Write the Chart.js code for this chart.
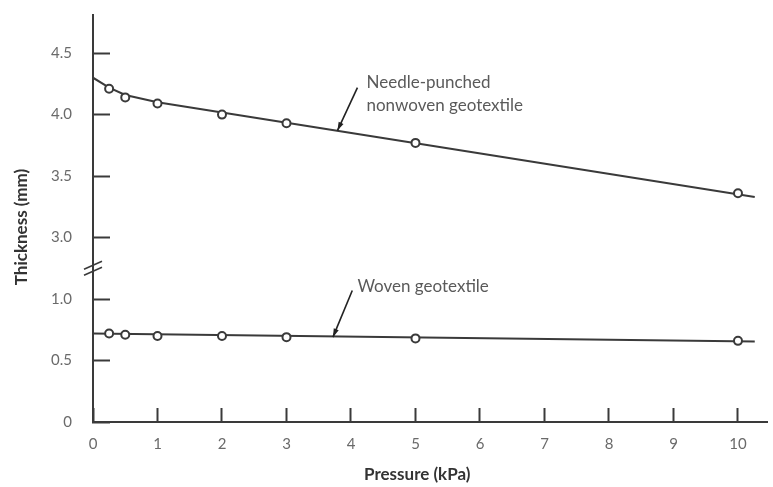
<!DOCTYPE html>
<html>
<head>
<meta charset="utf-8">
<script src="https://cdn.jsdelivr.net/npm/chart.js@4/dist/chart.umd.min.js"></script>
<style>
  body { margin: 0; background: #fff; }
  canvas { display: block; }
</style>
</head>
<body>
<canvas id="chart" width="773" height="487"></canvas>
<script>
// measured points
const pressure = [0.25, 0.5, 1, 2, 3, 5, 10];
const nonwovenThickness = [4.21, 4.14, 4.09, 4.00, 3.93, 3.77, 3.36];
const wovenThickness = [0.72, 0.71, 0.70, 0.70, 0.69, 0.68, 0.66];

// drawn trend lines
const nonwovenLineX = [0, 0.25, 0.5, 1, 10.26];
const nonwovenLineY = [4.30, 4.22, 4.16, 4.10, 3.33];
const wovenLineX = [0, 10.26];
const wovenLineY = [0.72, 0.655];

// axes
const xTickValues = [0, 1, 2, 3, 4, 5, 6, 7, 8, 9, 10];
const yTickValues = [0, 0.5, 1.0, 3.0, 3.5, 4.0, 4.5];

// broken y axis: the gap 1.0 .. 3.0 is squeezed into 0.5 units
const GAP_FROM = 1.25, GAP_SHIFT = 1.5;
const toAxis = v => (v > 2 ? v - GAP_SHIFT : v);
const fromAxis = a => (a > GAP_FROM ? a + GAP_SHIFT : a);

const pts = (xs, ys) => xs.map((x, i) => ({ x: x, y: toAxis(ys[i]) }));

const FONT = 'Lato, "Open Sans", sans-serif';
const INK = '#3a3a3a';

const pointStyle = {
  showLine: false,
  pointRadius: 4,
  pointBorderWidth: 2,
  pointBorderColor: INK,
  pointBackgroundColor: '#fff'
};
const lineStyle = {
  showLine: true,
  borderColor: INK,
  borderWidth: 2,
  pointRadius: 0,
  tension: 0
};

const annotations = {
  id: 'annotations',
  afterDatasetsDraw(chart) {
    const { ctx, scales: { x, y } } = chart;
    const px = v => x.getPixelForValue(v);
    const py = v => y.getPixelForValue(toAxis(v));

    function arrow(x0, y0, x1, y1) {
      ctx.save();
      ctx.strokeStyle = '#222';
      ctx.fillStyle = '#222';
      ctx.lineWidth = 1.6;
      ctx.beginPath();
      ctx.moveTo(x0, y0);
      ctx.lineTo(x1, y1);
      ctx.stroke();
      const a = Math.atan2(y1 - y0, x1 - x0);
      ctx.beginPath();
      ctx.moveTo(x1, y1);
      ctx.lineTo(x1 - 9 * Math.cos(a - 0.3), y1 - 9 * Math.sin(a - 0.3));
      ctx.lineTo(x1 - 9 * Math.cos(a + 0.3), y1 - 9 * Math.sin(a + 0.3));
      ctx.closePath();
      ctx.fill();
      ctx.restore();
    }

    ctx.save();
    ctx.font = '17px ' + FONT;
    ctx.fillStyle = '#5a5a5a';
    ctx.textAlign = 'left';
    ctx.textBaseline = 'alphabetic';
    ctx.fillText('Needle-punched', px(4.24), py(4.22));
    ctx.fillText('nonwoven geotextile', px(4.24), py(4.03));
    ctx.fillText('Woven geotextile', px(4.10), py(1.06));
    ctx.restore();

    arrow(px(4.10), py(4.22), px(3.79), py(3.87));
    arrow(px(4.02), py(1.07), px(3.72), py(0.69));

    // axis break marks
    const bx = x.getPixelForValue(0);
    const by = y.getPixelForValue(GAP_FROM);
    ctx.save();
    ctx.strokeStyle = INK;
    ctx.lineWidth = 1.6;
    [-3, 3].forEach(d => {
      ctx.beginPath();
      ctx.moveTo(bx - 9, by + d + 4);
      ctx.lineTo(bx + 9, by + d - 4);
      ctx.stroke();
    });
    ctx.restore();
  }
};

new Chart(document.getElementById('chart'), {
  type: 'scatter',
  data: {
    datasets: [
      Object.assign({ label: 'Needle-punched nonwoven geotextile', data: pts(pressure, nonwovenThickness) }, pointStyle),
      Object.assign({ label: 'Woven geotextile', data: pts(pressure, wovenThickness) }, pointStyle),
      Object.assign({ label: 'nonwoven trend', data: pts(nonwovenLineX, nonwovenLineY) }, lineStyle),
      Object.assign({ label: 'woven trend', data: pts(wovenLineX, wovenLineY) }, lineStyle)
    ]
  },
  options: {
    responsive: false,
    animation: false,
    devicePixelRatio: 1,
    layout: { padding: { top: 15, right: 0, left: 0, bottom: 0 } },
    plugins: { legend: { display: false }, tooltip: { enabled: false } },
    scales: {
      x: {
        type: 'linear',
        min: 0,
        max: 10.45,
        afterBuildTicks: s => { s.ticks = xTickValues.map(v => ({ value: v })); },
        afterFit: s => { s.height = 65; s.paddingLeft = 0; s.paddingRight = 0; },
        border: { display: true, color: INK, width: 2 },
        grid: { drawOnChartArea: false, drawTicks: true, tickLength: -14, tickWidth: 2, tickColor: INK },
        ticks: { padding: 27, color: '#6a6a6a', font: { family: FONT, size: 15 }, callback: v => String(v) },
        title: {
          display: true,
          text: 'Pressure (kPa)\u2002\u2002\u2002',
          color: '#333',
          font: { family: FONT, size: 17, weight: 'bold' },
          padding: { top: 0, bottom: 2 }
        }
      },
      y: {
        type: 'linear',
        min: 0,
        max: 3.31,
        afterBuildTicks: s => { s.ticks = yTickValues.map(v => ({ value: toAxis(v) })); },
        afterFit: s => { s.width = 93; s.paddingTop = 0; s.paddingBottom = 0; },
        border: { display: true, color: INK, width: 2 },
        grid: { drawOnChartArea: false, drawTicks: true, tickLength: -17, tickWidth: 2, tickColor: INK },
        ticks: {
          padding: 38,
          color: '#6a6a6a',
          font: { family: FONT, size: 15 },
          callback: v => { const r = fromAxis(v); return r === 0 ? '0' : r.toFixed(1); }
        },
        title: {
          display: true,
          text: 'Thickness (mm)\u2002\u2002',
          color: '#333',
          font: { family: FONT, size: 17, weight: 'bold' },
          padding: { top: 11, bottom: 0 }
        }
      }
    }
  },
  plugins: [annotations]
});
</script>
</body>
</html>
